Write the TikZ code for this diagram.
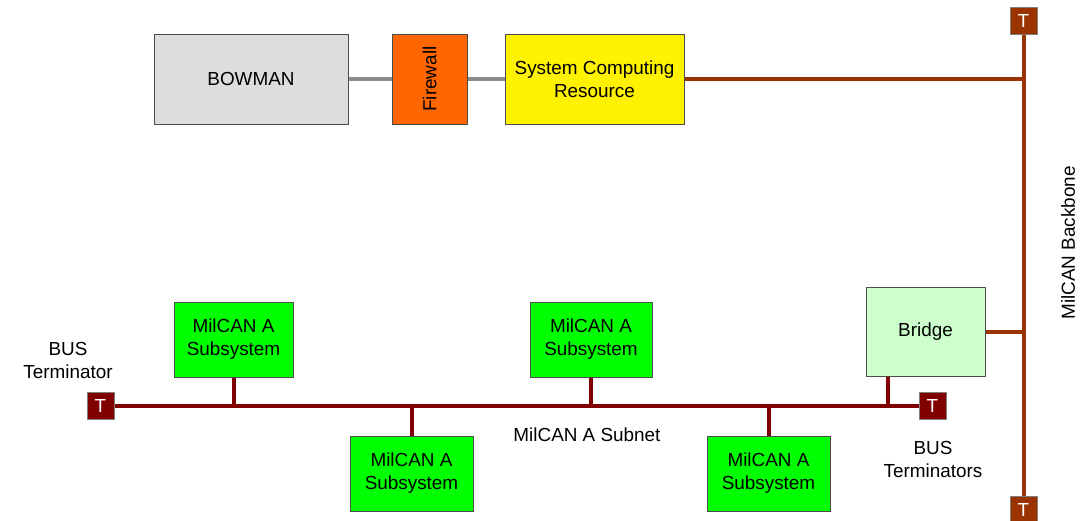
\documentclass[tikz,border=0pt]{standalone}
\usepackage{fontspec}
\setmainfont{Liberation Sans}
\usetikzlibrary{backgrounds}
\begin{document}
\begin{tikzpicture}[x=1pt,y=-1pt,
  every node/.style={font=\fontsize{18.9}{23}\selectfont, align=center, inner sep=0pt},
  box/.style={draw=black!70, line width=1pt},
  term/.style={draw=black!50, line width=0.8pt, minimum width=27, minimum height=27, text=white},
  lan/.style={draw=gray!90, line width=4pt},
  backbone/.style={draw=bbcol, line width=4pt},
  subnet/.style={draw=sncol, line width=4pt}]
\definecolor{bbcol}{HTML}{993300}
\definecolor{sncol}{HTML}{800000}
\definecolor{bowgray}{HTML}{DDDDDD}
\definecolor{fwcol}{HTML}{FF6600}
\definecolor{subgreen}{HTML}{00FF00}
\definecolor{bridgegreen}{HTML}{CCFFCC}
\useasboundingbox (0,0) rectangle (1080,520);

% upper network
\node[box, fill=bowgray, minimum width=194, minimum height=90] (bow) at (251,79) {BOWMAN};
\node[box, fill=fwcol, minimum width=75, minimum height=90] (fw) at (429.5,79) {};
\node[rotate=90] (fwtext) at (fw) {Firewall};
\node[box, fill=yellow, minimum width=179, minimum height=90] (scr) at (594.5,79) {System Computing\\Resource};

% backbone terminators
\node[term, fill=bbcol] (tT) at (1023.5,21) {T};
\node[term, fill=bbcol] (bT) at (1023.5,509.5) {T};

% bridge
\node[box, fill=bridgegreen, minimum width=119, minimum height=89] (br) at (925.5,332) {Bridge};

% subnet terminators
\node[term, fill=sncol] (lT) at (100.5,406) {T};
\node[term, fill=sncol] (rT) at (932.5,406) {T};

% subsystems
\node[box, fill=subgreen, minimum width=119, minimum height=75] (s1) at (233.5,339.5) {MilCAN A\\Subsystem};
\node[box, fill=subgreen, minimum width=123, minimum height=75] (s2) at (411.5,473.5) {MilCAN A\\Subsystem};
\node[box, fill=subgreen, minimum width=122, minimum height=75] (s3) at (591,339.5) {MilCAN A\\Subsystem};
\node[box, fill=subgreen, minimum width=123, minimum height=75] (s4) at (768.5,473.5) {MilCAN A\\Subsystem};

% labels
\node (lbT) at (68,360) {BUS\\Terminator};
\node (lbsub) at (587,435) {MilCAN A Subnet};
\node (lbTs) at (933,459) {BUS\\Terminators};
\node[rotate=90] (lbbb) at (1068,243) {MilCAN Backbone};

% connectors, kept behind the boxes
\coordinate (brdrop) at (888,0);
\begin{scope}[on background layer]
\draw[lan] (bow.east) -- (fw.west);
\draw[lan] (fw.east) -- (scr.west);
\draw[backbone] (tT.south) -- (bT.north);
\draw[backbone] (scr.east) -- (scr.east -| tT.south);
\draw[backbone] (br.east) -- (br.east -| tT.south);
\draw[subnet] (lT.east) -- (rT.west);
\draw[subnet] (s1.south) -- (s1.south |- lT.east);
\draw[subnet] (s3.south) -- (s3.south |- lT.east);
\draw[subnet] (s2.north) -- (s2.north |- lT.east);
\draw[subnet] (s4.north) -- (s4.north |- lT.east);
\draw[subnet] (brdrop |- br.south) -- (brdrop |- lT.east);
\end{scope}
\end{tikzpicture}
\end{document}
